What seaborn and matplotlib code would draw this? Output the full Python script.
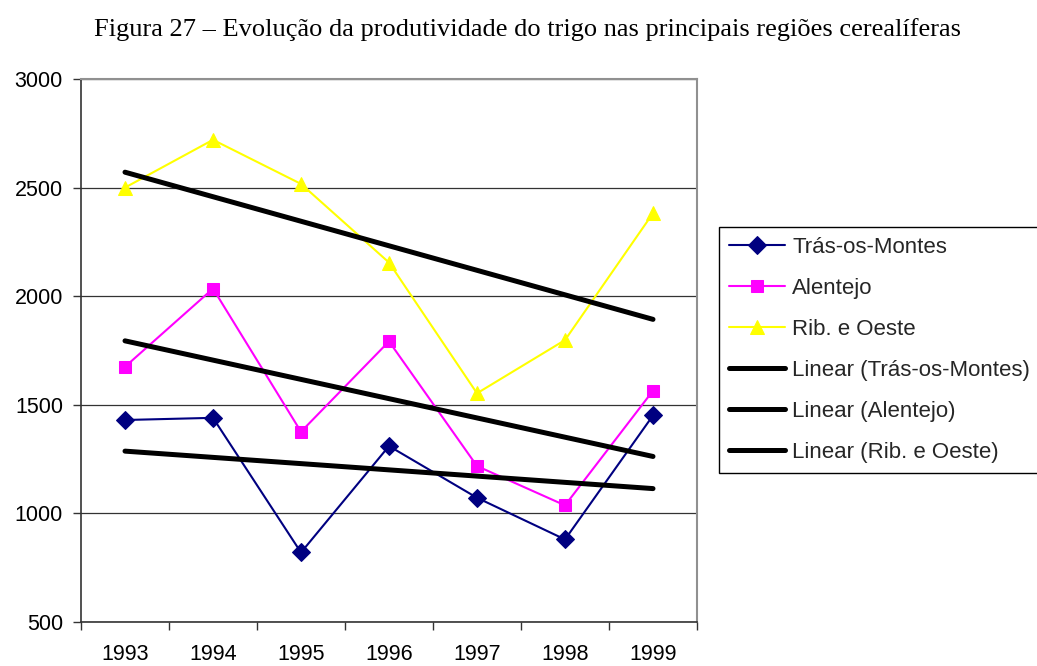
import numpy as np
import pandas as pd
import seaborn as sns
import matplotlib
matplotlib.use("Agg")
import matplotlib.pyplot as plt

years = ["1993", "1994", "1995", "1996", "1997", "1998", "1999"]
tras_os_montes = [1430, 1440, 820, 1310, 1072, 880, 1451]
alentejo = [1675, 2035, 1376, 1792, 1218, 1037, 1565]
rib_oeste = [2500, 2720, 2517, 2155, 1553, 1798, 2382]
series_names = ["Trás-os-Montes", "Alentejo", "Rib. e Oeste"]
title = "Figura 27 – Evolução da produtividade do trigo nas principais regiões cerealíferas"

sns.set_theme(style="white")
plt.rcParams["font.family"] = ["Liberation Sans", "DejaVu Sans"]

fig = plt.figure(figsize=(10.37, 6.66), dpi=100)
ax = fig.add_axes([81/1037, 1-622/666, (697-81)/1037, (622-79)/666])

pos = np.arange(len(years))
df = pd.DataFrame({"pos": np.tile(pos, 3),
                   "val": tras_os_montes + alentejo + rib_oeste,
                   "serie": np.repeat(series_names, len(years))})

colors = ["#000080", "#FF00FF", "#FFFF00"]
markers = ["D", "s", "^"]
msizes = [9, 8.5, 10.5]
for name, c, m, ms in zip(series_names, colors, markers, msizes):
    sub = df[df.serie == name]
    sns.lineplot(data=sub, x="pos", y="val", ax=ax, color=c, lw=1.5,
                 marker=m, markersize=ms, markeredgecolor=c, label=name,
                 zorder=3)

for name in series_names:
    sub = df[df.serie == name]
    k, b = np.polyfit(sub.pos, sub.val, 1)
    trend = pd.DataFrame({"pos": pos, "val": k*pos + b})
    sns.lineplot(data=trend, x="pos", y="val", ax=ax, color="black", lw=3.6,
                 label=f"Linear ({name})", zorder=4,
                 solid_capstyle="round")

ax.set_xlim(-0.5, len(years) - 0.5)
ax.set_ylim(500, 3000)
ax.set_yticks([500, 1000, 1500, 2000, 2500, 3000])
ax.set_xticks(np.arange(-0.5, len(years), 1.0))
ax.set_xticklabels([])
ax.set_xticks(pos, minor=True)
ax.set_xticklabels(years, minor=True)
ax.tick_params(axis="x", which="major", length=6, width=1, color="#333333", direction="out", bottom=True)
ax.tick_params(axis="x", which="minor", length=0, pad=16, labelsize=15.5, labelcolor="black")
ax.tick_params(axis="y", length=6, width=1, color="#333333", direction="out", left=True,
               labelsize=15.5, labelcolor="black", pad=7)
ax.set_xlabel("")
ax.set_ylabel("")
ax.grid(axis="y", color="#333333", lw=0.9)
ax.set_axisbelow(True)
for s in ["top", "right"]:
    ax.spines[s].set_color("#909090")
    ax.spines[s].set_linewidth(1.5)
for s in ["left", "bottom"]:
    ax.spines[s].set_color("#333333")
    ax.spines[s].set_linewidth(1.2)

h, l = ax.get_legend_handles_labels()
ax.legend(h, l, loc="upper left", bbox_to_anchor=(719/1037, 1-227/666),
          bbox_transform=fig.transFigure, borderaxespad=0, frameon=True,
          fancybox=False, edgecolor="black", fontsize=16, handlelength=2.5,
          handletextpad=0.35, labelspacing=0.9, borderpad=0.45,
          facecolor="white", framealpha=1)
ax.get_legend().get_frame().set_linewidth(1.0)

fig.text(528/1037, 1-30/666, title, ha="center", va="center",
         family=["Liberation Serif", "DejaVu Serif"], fontsize=19, color="black")

fig.savefig("out.png", dpi=100, facecolor="white")
